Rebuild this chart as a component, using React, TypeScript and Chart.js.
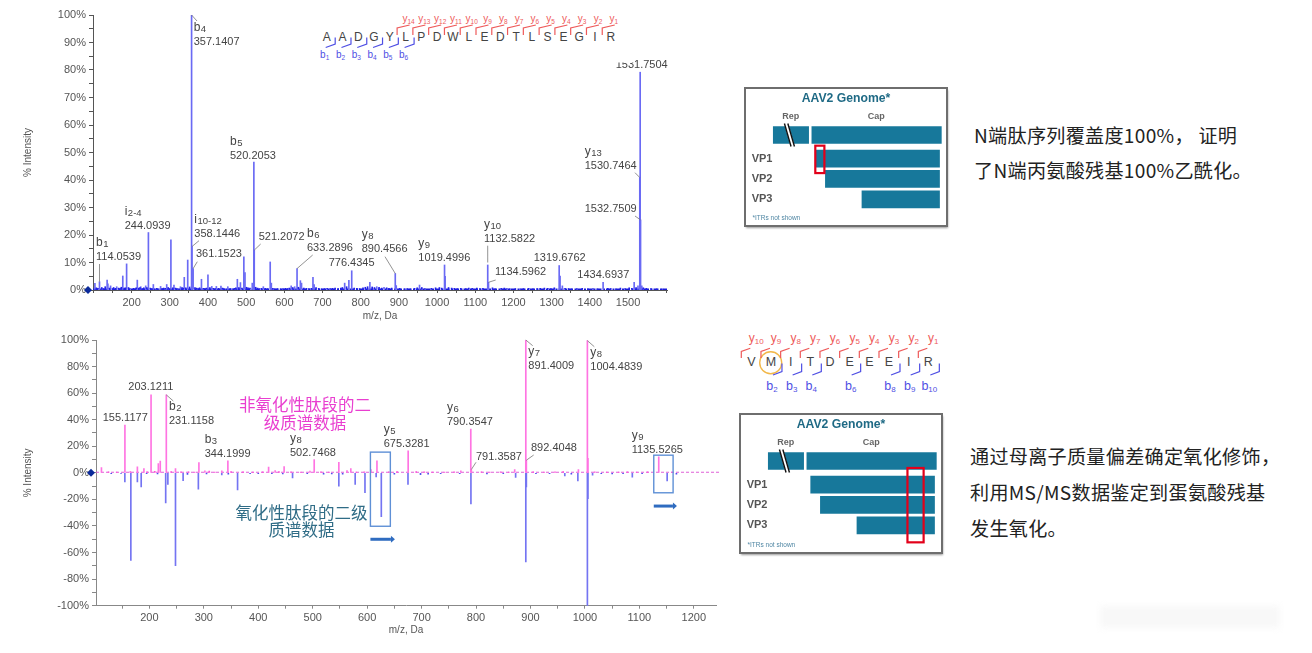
import React, { useEffect, useRef } from "react";
import { Chart, registerables } from "chart.js";

Chart.register(...registerables);

const SANS = "'Liberation Sans', Arial, sans-serif";
const CJK = "'Noto Sans CJK SC', sans-serif";

/* ---------- top spectrum: acetylated N-terminal peptide ---------- */
const topPeaks: [number, number][] = [
  [104, 2.4], [116, 3], [136, 3.6], [138, 2.2], [145, 1.5], [161, 1.2], [177, 5.1], [187, 9.5], [215, 3.6], [224, 1.2],
  [237, 1.5], [244.09, 20.9], [257, 2], [276, 1.3], [292, 2], [303, 18.2], [311, 1.8], [328, 1.2], [338, 4.6], [347, 10.9],
  [357.14, 100], [358.14, 15.8], [361.15, 7.8], [383, 3.9], [400, 5.5], [410, 1.3], [422, 1.3], [434, 1.4], [452, 1.2],
  [477, 3.9], [485, 2.7], [494, 12.1], [497, 6.3], [516, 2.5], [520.21, 46.5], [521.21, 14.5], [545, 1.2], [563, 10.2],
  [566, 2.5], [618, 1.5], [627, 1.2], [633.29, 7.8], [642, 3.4], [645, 2.5], [675, 4.6], [678, 2], [758, 2.5], [769, 3.5],
  [776.43, 7], [824, 2.8], [842, 1.2], [861, 1], [890.46, 6], [893, 1.6], [954, 1.8], [1019.5, 9.1], [1021, 5], [1132.58, 9.1],
  [1134.6, 2.8], [1319.68, 8.9], [1322, 5.1], [1328, 1.5], [1434.69, 2.8], [1516, 2.8], [1526, 1.5], [1530.75, 40.9],
  [1531.75, 79.2], [1532.75, 25.5], [1536, 1.5],
];
const topNoise: [number, number][] = [
  [108, .8], [112, .6], [122, .9], [126, .5], [131, 1.2], [142, .7], [150, .5], [153, .9], [158, .6], [166, .7], [170, .5], [173, 1],
  [181, .7], [184, .8], [192, .9], [196, .5], [205, .6], [209, .4], [212, .8], [219, .7], [222, .9], [228, .5], [232, .8], [240, .9],
  [249, .7], [253, .5], [262, .4], [266, .6], [270, .4], [280, .5], [284, .7], [288, .6], [296, .9], [299, .5], [308, .8], [315, .7],
  [319, .5], [323, .4], [332, .9], [335, .7], [342, .8], [352, 1.1], [366, .9], [370, .7], [374, .5], [378, .8], [388, .6], [392, .5],
  [396, .7], [405, .9], [414, .6], [419, .5], [428, .6], [438, .7], [441, .5], [446, .4], [458, .5], [463, .4], [469, .6], [473, .8],
  [481, .9], [489, .7], [501, 1], [505, .8], [510, .7], [525, 1], [530, .7], [535, .5], [540, .6], [550, .6], [556, .5], [570, .6],
  [575, .4], [582, .5], [590, .4], [596, .5], [603, .6], [609, .5], [613, .7], [622, .9], [637, 1], [651, .7], [658, .6], [664, .5],
  [671, .6], [683, .9], [690, .6], [697, .4], [705, .5], [712, .6], [720, .5], [726, .6], [733, .7], [741, .5], [748, .7], [752, .9],
  [763, 1.2], [783, .7], [790, .6], [797, .5], [806, .8], [812, 1], [818, 1.2], [830, 1.1], [836, .9], [848, 1], [855, .7], [868, .8],
  [874, .6], [881, .7], [902, .6], [915, .4], [922, .5], [930, .4], [941, .6], [948, .8], [960, .9], [968, .5], [985, .6], [996, .8],
  [1006, .9], [1012, .7], [1030, .9], [1038, .7], [1045, .6], [1053, .5], [1062, .6], [1075, .5], [1083, .7], [1092, .6], [1104, .7],
  [1112, .5], [1120, .6], [1145, .8], [1152, .4], [1168, .6], [1176, .7], [1183, .5], [1191, .4], [1205, .5], [1218, .4], [1226, .5],
  [1240, .6], [1251, .4], [1262, .5], [1270, .6], [1281, .7], [1290, .6], [1298, .5], [1307, .8], [1335, .6], [1344, .5], [1352, .4],
  [1366, .5], [1380, .6], [1395, .4], [1408, .5], [1420, .4], [1447, .6], [1455, .5], [1468, .4], [1480, .7], [1492, .5], [1503, .8],
  [1510, .6], [1521, .9], [1540, .8], [1548, .6], [1560, .5], [1575, .4], [1590, .4],
];

/* ---------- bottom spectrum: mirror plot ---------- */
const mirrorUp: [number, number][] = [
  [112, 4], [155.12, 36], [178, 4.5], [190, 3.3], [203.12, 58.7], [216.5, 7], [220, 8.8], [231.12, 58.7], [248, 3.3], [291, 7.8],
  [302, 1.5], [333, 1.5], [344.2, 9], [419, 4.3], [431, 1.8], [447.5, 4.8], [495, 1.3], [502.75, 10], [548, 8], [563, 1.8], [570, 3.3],
  [607, 2.5], [618, 9], [675.33, 16.6], [772, 1.5], [790.35, 33], [791.36, 2.5], [871, 2.5], [891.4, 100], [892.4, 9.5], [988, 2.5],
  [1004.48, 99.5], [1005.5, 11], [1135.53, 12],
];
const mirrorDown: [number, number][] = [
  [155, -6.8], [166, -66], [178, -6.8], [185, -10.6], [230, -22.7], [234, -8.8], [248, -69.8], [262, -5.8], [290, -12.3], [333, -1.5],
  [362, -12.8], [463, -3.8], [548, -10], [578, -8.8], [596, -15], [616.5, -3], [626, -33], [675, -8.8], [790.6, -23.4], [872.7, -3.5],
  [891.4, -67], [892.4, -10.6], [963, -2.3], [987, -6], [1004.5, -100], [1005.5, -19.4], [1014, -1.8], [1087, -3.3], [1151, -6],
];
const mirrorUpNoise: [number, number][] = [
  [125, .8], [140, .5], [165, .9], [196, .8], [210, 1.2], [240, 1], [258, .8], [272, .7], [283, .6], [310, 1.4], [320, .6], [350, .9],
  [372, .7], [390, .5], [408, .7], [438, 1], [460, .8], [478, .6], [515, .7], [530, .5], [580, .6], [595, .8], [640, .7], [655, .9],
  [690, .9], [705, .7], [720, .6], [742, .5], [760, .7], [810, .7], [825, .6], [845, .8], [860, .5], [905, .7], [925, .6], [945, .8],
  [960, .9], [1018, .7], [1040, .6], [1062, .6], [1078, .8], [1095, .5], [1115, .7], [1160, .5],
];
const mirrorDownNoise: [number, number][] = [
  [130, -.6], [148, -.5], [195, -.7], [215, -.8], [270, -1.2], [305, -.8], [345, -.9], [385, -.7], [400, -.6], [425, -.7], [445, -.8],
  [490, -.7], [520, -1], [535, -.8], [555, -.9], [650, -.9], [698, -1.4], [712, -1], [735, -.6], [770, -.7], [820, -.8], [850, -.7],
  [910, -.6], [935, -.7], [975, -1], [1030, -.7], [1050, -.8], [1070, -.7], [1105, -.6], [1168, -.9],
];

/* ---------- annotation texts ---------- */
type Note = { mz: number; val: number; text: string; name?: string; sub?: string; pos: [number, number]; from?: [number, number] };

const topNotes: Note[] = [
  { mz: 116, val: 3, name: "b", sub: "1", text: "114.0539", pos: [96, 257], from: [99.5, 264] },
  { mz: 244.09, val: 20.9, name: "i", sub: "2-4", text: "244.0939", pos: [124.7, 225.7] },
  { mz: 357.14, val: 100, name: "b", sub: "4", text: "357.1407", pos: [193.7, 41.7], from: [197, 21] },
  { mz: 358.14, val: 15.8, name: "i", sub: "10-12", text: "358.1446", pos: [194.3, 234.3], from: [199, 240.7] },
  { mz: 361.15, val: 7.8, text: "361.1523", pos: [196, 254.3], from: [197.3, 261.7] },
  { mz: 520.21, val: 46.5, name: "b", sub: "5", text: "520.2053", pos: [230, 155.7] },
  { mz: 521.21, val: 14.5, text: "521.2072", pos: [258.7, 237], from: [260.7, 244] },
  { mz: 633.29, val: 7.8, name: "b", sub: "6", text: "633.2896", pos: [307, 247.7], from: [312.7, 255] },
  { mz: 776.43, val: 7, text: "776.4345", pos: [328.7, 262.7] },
  { mz: 890.46, val: 6, name: "y", sub: "8", text: "890.4566", pos: [361.7, 249], from: [385, 256.7] },
  { mz: 1019.5, val: 9.1, name: "y", sub: "9", text: "1019.4996", pos: [418.3, 258.3] },
  { mz: 1132.58, val: 10, name: "y", sub: "10", text: "1132.5822", pos: [484, 238.7], from: [487.7, 245.7] },
  { mz: 1134.6, val: 2.8, text: "1134.5962", pos: [495, 272], from: [495.7, 280] },
  { mz: 1319.68, val: 8.9, text: "1319.6762", pos: [533.7, 257.7] },
  { mz: 1434.69, val: 2.8, text: "1434.6937", pos: [577.3, 274.7] },
  { mz: 1530.75, val: 40.9, name: "y", sub: "13", text: "1530.7464", pos: [584.7, 165.7], from: [635, 172.7] },
  { mz: 1532.75, val: 25.5, text: "1532.7509", pos: [584.7, 209], from: [635, 216] },
  { mz: 1531.75, val: 79.2, text: "1531.7504", pos: [615.7, 65] },
];
const mirrorNotes: Note[] = [
  { mz: 155.12, val: 36, text: "155.1177", pos: [102.7, 92.7] },
  { mz: 203.12, val: 58.7, text: "203.1211", pos: [128.3, 62.3] },
  { mz: 231.12, val: 58.7, name: "b", sub: "2", text: "231.1158", pos: [169, 96], from: [173.3, 76] },
  { mz: 344.2, val: 9, name: "b", sub: "3", text: "344.1999", pos: [204.7, 128.7] },
  { mz: 502.75, val: 10, name: "y", sub: "8", text: "502.7468", pos: [290, 128.3] },
  { mz: 675.33, val: 16.6, name: "y", sub: "5", text: "675.3281", pos: [383.7, 119] },
  { mz: 790.35, val: 33, name: "y", sub: "6", text: "790.3547", pos: [447, 97.3] },
  { mz: 791.36, val: 2.5, text: "791.3587", pos: [476, 131.7], from: [476, 137.3] },
  { mz: 891.4, val: 100, name: "y", sub: "7", text: "891.4009", pos: [528.3, 41.3], from: [532.7, 20.7] },
  { mz: 892.4, val: 9.5, text: "892.4048", pos: [531, 123], from: [533.7, 130] },
  { mz: 1004.48, val: 99.5, name: "y", sub: "8", text: "1004.4839", pos: [590.3, 42.3], from: [594.3, 21.7] },
  { mz: 1135.53, val: 12, name: "y", sub: "9", text: "1135.5265", pos: [631.7, 125] },
];
const mirrorBoxes = [
  { mzFrom: 606, mzTo: 642.6, hi: 15.6, lo: -40.2, arrowAt: -50, arrowTo: 651 },
  { mzFrom: 1126.4, mzTo: 1161.9, hi: 13.3, lo: -15, arrowAt: -25, arrowTo: 1169 },
];
const mirrorCaptions = [
  { lines: ["非氧化性肽段的二", "级质谱数据"], cx: 305, cy: 80, color: "#e93fd0" },
  { lines: ["氧化性肽段的二级", "质谱数据"], cx: 301.5, cy: 187.7, color: "#2f6c86" },
];

/* ---------- genome schematic ---------- */
const genomeRows = [0, 1.15, 2.13, 3.13];
const repSpan = [14, 31.5];
const capSpan = [33.1, 97.2];
const vpStarts = [35, 39.8, 57.9];
const vpEnd = 96.3;
const vpLabels = ["VP1", "VP2", "VP3"];

/* ---------- peptide sequences ---------- */
const seqTop = "AADGYLPDWLEDTLSEGIR".split("");
const seqTopB = [1, 2, 3, 4, 5, 6];
const seqTopY = [14, 13, 12, 11, 10, 9, 8, 7, 6, 5, 4, 3, 2, 1];
const seqMirror = "VMITDEEEIR".split("");
const seqMirrorB = [2, 3, 4, 6, 8, 9, 10];
const seqMirrorY = [10, 9, 8, 7, 6, 5, 4, 3, 2, 1];

const toXY = (a: [number, number][]) => a.map(([x, y]) => ({ x, y }));

function drawName(ctx: CanvasRenderingContext2D, n: Note, gap: number) {
  const [x, y] = n.pos;
  if (!n.name) return;
  ctx.font = `12px ${SANS}`;
  ctx.fillText(n.name, x, y - gap);
  const w = ctx.measureText(n.name).width;
  ctx.font = `9.5px ${SANS}`;
  ctx.fillText(n.sub || "", x + w + 0.5, y - gap + 2);
}

function notesPlugin(notes: Note[]) {
  return {
    id: "notes",
    afterDatasetsDraw(chart: any) {
      const { ctx, scales } = chart;
      ctx.save();
      ctx.strokeStyle = "#777";
      ctx.lineWidth = 0.8;
      notes.forEach((n) => {
        if (!n.from) return;
        ctx.beginPath();
        ctx.moveTo(n.from[0], n.from[1]);
        ctx.lineTo(scales.x.getPixelForValue(n.mz), scales.y.getPixelForValue(n.val));
        ctx.stroke();
      });
      ctx.fillStyle = "#444";
      ctx.textAlign = "left";
      ctx.textBaseline = "middle";
      notes.forEach((n) => {
        ctx.font = `11px ${SANS}`;
        ctx.fillText(n.text, n.pos[0], n.pos[1]);
        drawName(ctx, n, 14.5);
      });
      // origin marker
      const ox = scales.x.left - 5;
      const oy = scales.y.getPixelForValue(0);
      ctx.fillStyle = "#0b2a9a";
      ctx.beginPath();
      ctx.moveTo(ox - 4, oy);
      ctx.lineTo(ox, oy - 4);
      ctx.lineTo(ox + 4, oy);
      ctx.lineTo(ox, oy + 4);
      ctx.closePath();
      ctx.fill();
      ctx.restore();
    },
  };
}

function baselinePlugin(color: string, dash: number[], width: number, overshoot: number) {
  return {
    id: "baseline",
    beforeDatasetsDraw(chart: any) {
      const { ctx, scales } = chart;
      const y0 = scales.y.getPixelForValue(0);
      ctx.save();
      ctx.strokeStyle = color;
      ctx.lineWidth = width;
      ctx.setLineDash(dash);
      ctx.beginPath();
      ctx.moveTo(scales.x.left, y0 - width / 2);
      ctx.lineTo(scales.x.right + overshoot, y0 - width / 2);
      ctx.stroke();
      ctx.restore();
    },
  };
}

const mirrorExtras = {
  id: "mirrorExtras",
  afterDatasetsDraw(chart: any) {
    const { ctx, scales } = chart;
    const { x, y } = scales;
    ctx.save();
    mirrorBoxes.forEach((b) => {
      const l = x.getPixelForValue(b.mzFrom);
      const r = x.getPixelForValue(b.mzTo);
      const t = y.getPixelForValue(b.hi);
      const d = y.getPixelForValue(b.lo);
      ctx.strokeStyle = "#5f90d6";
      ctx.lineWidth = 1.4;
      ctx.strokeRect(l, t, r - l, d - t);
      const ay = y.getPixelForValue(b.arrowAt);
      const ar = x.getPixelForValue(b.arrowTo);
      ctx.strokeStyle = ctx.fillStyle = "#2f6cc0";
      ctx.lineWidth = 3;
      ctx.beginPath();
      ctx.moveTo(l, ay);
      ctx.lineTo(ar - 4, ay);
      ctx.stroke();
      ctx.beginPath();
      ctx.moveTo(ar - 4, ay - 3.5);
      ctx.lineTo(ar, ay);
      ctx.lineTo(ar - 4, ay + 3.5);
      ctx.closePath();
      ctx.fill();
    });
    ctx.font = `16.5px ${CJK}`;
    ctx.textAlign = "center";
    ctx.textBaseline = "middle";
    mirrorCaptions.forEach((c) => {
      ctx.fillStyle = c.color;
      c.lines.forEach((t, i) => ctx.fillText(t, c.cx, c.cy + i * 17.5));
    });
    ctx.restore();
  },
};

type SpecProps = {
  left: number; top: number; width: number; height: number;
  datasets: any[]; xMin: number; xMax: number; xLastLabel: number; yMin: number; yMax: number; yMinor: number; yMajor: number;
  pad: { top: number; right: number }; axisW: number; axisH: number; titleBottom: number; axisColor: string; plugins: any[];
};

function Spectrum(p: SpecProps) {
  const ref = useRef<HTMLCanvasElement>(null);
  useEffect(() => {
    const chart = new Chart(ref.current as HTMLCanvasElement, {
      type: "bar",
      data: { datasets: p.datasets },
      plugins: p.plugins,
      options: {
        animation: false,
        responsive: false,
        devicePixelRatio: 1,
        layout: { padding: { top: p.pad.top, right: p.pad.right, left: 0, bottom: 0 } },
        plugins: { legend: { display: false }, tooltip: { enabled: false }, title: { display: false } },
        datasets: { bar: { barThickness: 1, grouped: false } },
        scales: {
          x: {
            type: "linear", offset: false, min: p.xMin, max: p.xMax,
            afterFit: (s: any) => { s.height = p.axisH; },
            grid: { display: true, drawOnChartArea: false, tickLength: 3, color: p.axisColor, offset: false },
            border: { color: p.axisColor, width: 1 },
            title: { display: true, text: "m/z, Da", color: "#555", font: { family: SANS, size: 10 }, padding: { top: 0, bottom: p.titleBottom } },
            ticks: {
              stepSize: 50, autoSkip: false, maxRotation: 0, minRotation: 0, includeBounds: false, padding: 3, color: "#555",
              font: { family: SANS, size: 11 },
              callback: (v: any) => (Number(v) % 100 === 0 && Number(v) >= 200 && Number(v) <= p.xLastLabel ? String(v) : ""),
            },
          },
          y: {
            type: "linear", min: p.yMin, max: p.yMax,
            afterFit: (s: any) => { s.width = p.axisW; },
            grid: { display: true, drawOnChartArea: false, tickLength: 4, color: p.axisColor },
            border: { color: p.axisColor, width: 1 },
            title: { display: true, text: "% Intensity", color: "#555", font: { family: SANS, size: 10 }, padding: { top: 22, bottom: 0 } },
            ticks: {
              stepSize: p.yMinor, autoSkip: false, padding: 3, color: "#555",
              font: { family: SANS, size: 11 },
              callback: (v: any) => (Number(v) % p.yMajor === 0 ? `${v}%` : ""),
            },
          },
        },
      } as any,
    });
    return () => chart.destroy();
  }, []);
  return <canvas ref={ref} width={p.width} height={p.height} style={{ position: "absolute", left: p.left, top: p.top, width: p.width, height: p.height }} />;
}

type GenomeProps = { left: number; top: number; width: number; height: number; mark: { from: number; to: number; rowFrom: number; rowTo: number } };

function Genome({ left, top, width, height, mark }: GenomeProps) {
  const ref = useRef<HTMLCanvasElement>(null);
  useEffect(() => {
    const teal = "#17789b";
    const rows = [
      { x: repSpan, y: genomeRows[0] },
      { x: capSpan, y: genomeRows[0] },
      ...vpStarts.map((s, i) => ({ x: [s, vpEnd], y: genomeRows[i + 1] })),
    ];
    const deco = {
      id: "genomeDeco",
      afterDatasetsDraw(chart: any) {
        const { ctx, scales } = chart;
        const { x, y } = scales;
        ctx.save();
        // break mark on the Rep bar
        const sx = x.getPixelForValue(22);
        const sy = y.getPixelForValue(genomeRows[0]);
        ctx.strokeStyle = "#fff";
        ctx.lineWidth = 4;
        ctx.beginPath(); ctx.moveTo(sx - 3.3, sy - 11.5); ctx.lineTo(sx + 3.3, sy + 11.5); ctx.stroke();
        ctx.strokeStyle = "#111";
        ctx.lineWidth = 1.4;
        [-1.7, 1.7].forEach((d) => {
          ctx.beginPath(); ctx.moveTo(sx - 3.3 + d, sy - 11.5); ctx.lineTo(sx + 3.3 + d, sy + 11.5); ctx.stroke();
        });
        // title and labels
        ctx.textBaseline = "middle";
        ctx.textAlign = "center";
        ctx.fillStyle = "#1f6a85";
        ctx.font = `bold 12.2px ${SANS}`;
        ctx.fillText("AAV2 Genome*", x.getPixelForValue(50), 11);
        ctx.fillStyle = "#666";
        ctx.font = `bold 9px ${SANS}`;
        ctx.fillText("Rep", x.getPixelForValue(22.6), 28.5);
        ctx.fillText("Cap", x.getPixelForValue(65), 28.5);
        ctx.textAlign = "left";
        ctx.fillStyle = "#555";
        ctx.font = `bold 11px ${SANS}`;
        vpLabels.forEach((t, i) => ctx.fillText(t, 6.7, y.getPixelForValue(genomeRows[i + 1])));
        ctx.fillStyle = "#4f86a3";
        ctx.font = `6.5px ${SANS}`;
        ctx.fillText("*ITRs not shown", 7.5, height - 8);
        // highlight
        const l = x.getPixelForValue(mark.from);
        const r = x.getPixelForValue(mark.to);
        const t = y.getPixelForValue(mark.rowFrom);
        const b = y.getPixelForValue(mark.rowTo);
        ctx.strokeStyle = "#e2001a";
        ctx.lineWidth = 2.2;
        ctx.strokeRect(l, t, r - l, b - t);
        ctx.restore();
      },
    };
    const chart = new Chart(ref.current as HTMLCanvasElement, {
      type: "bar",
      data: { datasets: [{ data: rows, backgroundColor: teal, barThickness: 17 }] },
      plugins: [deco],
      options: {
        indexAxis: "y",
        animation: false,
        responsive: false,
        devicePixelRatio: 1,
        plugins: { legend: { display: false }, tooltip: { enabled: false } },
        scales: {
          x: { type: "linear", display: false, min: 0, max: 100 },
          y: { type: "linear", display: false, reverse: true, offset: false, min: -2.28, max: height / 20.6 - 2.28 },
        },
      } as any,
    });
    return () => chart.destroy();
  }, []);
  return (
    <div style={{ position: "absolute", left, top, width, height, background: "#fff", outline: "2px solid #6e6e6e", outlineOffset: -1, boxShadow: "1px 2px 2px #999" }}>
      <canvas ref={ref} width={width} height={height} style={{ display: "block", width, height }} />
    </div>
  );
}

const RED = "#ee5a5a";
const BLUE = "#4f4fe4";

function SeqTop() {
  const x0 = 326.7, dx = 15.78, cy = 36.7;
  const first = seqTop.length - seqTopY.length;
  return (
    <svg width={330} height={60} viewBox="310 5 330 60" style={{ position: "absolute", left: 310, top: 5 }}>
      <rect x={312} y={8} width={322} height={54.5} fill="#fff" />
      {seqTop.map((c, i) => (
        <text key={i} x={x0 + i * dx} y={cy + 4.2} textAnchor="middle" fontFamily={SANS} fontSize={12} fill="#444">{c}</text>
      ))}
      {seqTopB.map((n, i) => {
        const x = x0 + i * dx;
        return (
          <g key={n}>
            <polyline points={`${x + 8.5},37.5 ${x + 8.5},44 ${x - 1},47.5`} fill="none" stroke={BLUE} strokeWidth={1.2} />
            <text x={x - 2} y={58} textAnchor="middle" fontFamily={SANS} fontSize={10} fill={BLUE}>b<tspan fontSize={6.5} dy={1.5}>{n}</tspan></text>
          </g>
        );
      })}
      {seqTopY.map((n, i) => {
        const x = x0 + (first + i) * dx;
        return (
          <g key={n}>
            <polyline points={`${x - 8.5},35 ${x - 8.5},28 ${x + 4},25`} fill="none" stroke={RED} strokeWidth={1.2} />
            <text x={x + 3} y={22} textAnchor="middle" fontFamily={SANS} fontSize={10} fill={RED}>y<tspan fontSize={6.5} dy={1.5}>{n}</tspan></text>
          </g>
        );
      })}
    </svg>
  );
}

function SeqMirror() {
  const x0 = 751.3, dx = 19.67, cy = 361.7;
  return (
    <svg width={215} height={70} viewBox="735 330 215 70" style={{ position: "absolute", left: 735, top: 330 }}>
      <circle cx={770.7} cy={362.7} r={11} fill="none" stroke="#f2b84a" strokeWidth={1.4} />
      {seqMirror.map((c, i) => (
        <text key={i} x={x0 + i * dx} y={cy + 4.5} textAnchor="middle" fontFamily={SANS} fontSize={12.5} fill="#444">{c}</text>
      ))}
      {seqMirrorY.map((n, i) => {
        const x = x0 + i * dx;
        return (
          <g key={n}>
            <polyline points={`${x - 10},358 ${x - 10},351.5 ${x - 1},348.3`} fill="none" stroke={RED} strokeWidth={1.2} />
            <text x={x + 5} y={342} textAnchor="middle" fontFamily={SANS} fontSize={12} fill={RED}>y<tspan fontSize={8} dy={1.5}>{n}</tspan></text>
          </g>
        );
      })}
      {seqMirrorB.map((n) => {
        const x = x0 + (n - 1) * dx;
        return (
          <g key={n}>
            <polyline points={`${x + 11},363.5 ${x + 11},371.5 ${x + 2},375`} fill="none" stroke={BLUE} strokeWidth={1.2} />
            <text x={x + 1} y={390} textAnchor="middle" fontFamily={SANS} fontSize={12.5} fill={BLUE}>b<tspan fontSize={8} dy={1.5}>{n}</tspan></text>
          </g>
        );
      })}
    </svg>
  );
}

const noteStyle: React.CSSProperties = { position: "absolute", whiteSpace: "nowrap", fontFamily: CJK, fontSize: 19.1, letterSpacing: 0.3, color: "#222", lineHeight: "24px" };

export default function App() {
  const topData = [
    { data: toXY(topNoise), backgroundColor: "#2020e8" },
    { data: toXY(topPeaks), backgroundColor: "#6a6af4" },
  ];
  const mirrorData = [
    { data: toXY(mirrorDown), backgroundColor: "#7474f2" },
    { data: toXY(mirrorDownNoise), backgroundColor: "#4f4fee" },
    { data: toXY(mirrorUp), backgroundColor: "#ff74e2" },
    { data: toXY(mirrorUpNoise), backgroundColor: "#ff4fd8" },
  ];
  return (
    <div style={{ position: "absolute", left: 0, top: 0, width: 1312, height: 653, background: "#fff", overflow: "hidden", filter: "blur(0.65px)" }}>
      <Spectrum left={0} top={0} width={700} height={325} datasets={topData} xMin={99} xMax={1602} xLastLabel={1500} yMin={0} yMax={100} yMinor={5} yMajor={10}
        pad={{ top: 15, right: 33 }} axisW={93} axisH={35} titleBottom={3} axisColor="#555" plugins={[baselinePlugin("#1a1ad8", [5, 1.5, 2, 1], 1.5, 0), notesPlugin(topNotes)]} />
      <Spectrum left={0} top={325} width={730} height={325} datasets={mirrorData} xMin={102} xMax={1240.7} xLastLabel={1200} yMin={-100} yMax={100} yMinor={10} yMajor={20}
        pad={{ top: 15, right: 14 }} axisW={96} axisH={44.3} titleBottom={14} axisColor="#888" plugins={[baselinePlugin("#e060d8", [3, 2], 1.2, 4), mirrorExtras, notesPlugin(mirrorNotes)]} />
      <SeqTop />
      <SeqMirror />
      <Genome left={745} top={88} width={202} height={138} mark={{ from: 34.8, to: 39.3, rowFrom: 0.52, rowTo: 1.85 }} />
      <Genome left={740} top={414} width={202} height={139} mark={{ from: 82.9, to: 90.9, rowFrom: 0.34, rowTo: 3.95 }} />
      <div style={{ ...noteStyle, left: 974, top: 123 }}>N端肽序列覆盖度100%， 证明</div>
      <div style={{ ...noteStyle, left: 974, top: 158 }}>了N端丙氨酸残基100%乙酰化。</div>
      <div style={{ ...noteStyle, left: 970, top: 444 }}>通过母离子质量偏差确定氧化修饰，</div>
      <div style={{ ...noteStyle, left: 970, top: 480 }}>利用MS/MS数据鉴定到蛋氨酸残基</div>
      <div style={{ ...noteStyle, left: 970, top: 516 }}>发生氧化。</div>
      <div style={{ position: "absolute", left: 1100, top: 606, width: 180, height: 22, background: "#f8f8f8", filter: "blur(3px)" }} />
    </div>
  );
}
